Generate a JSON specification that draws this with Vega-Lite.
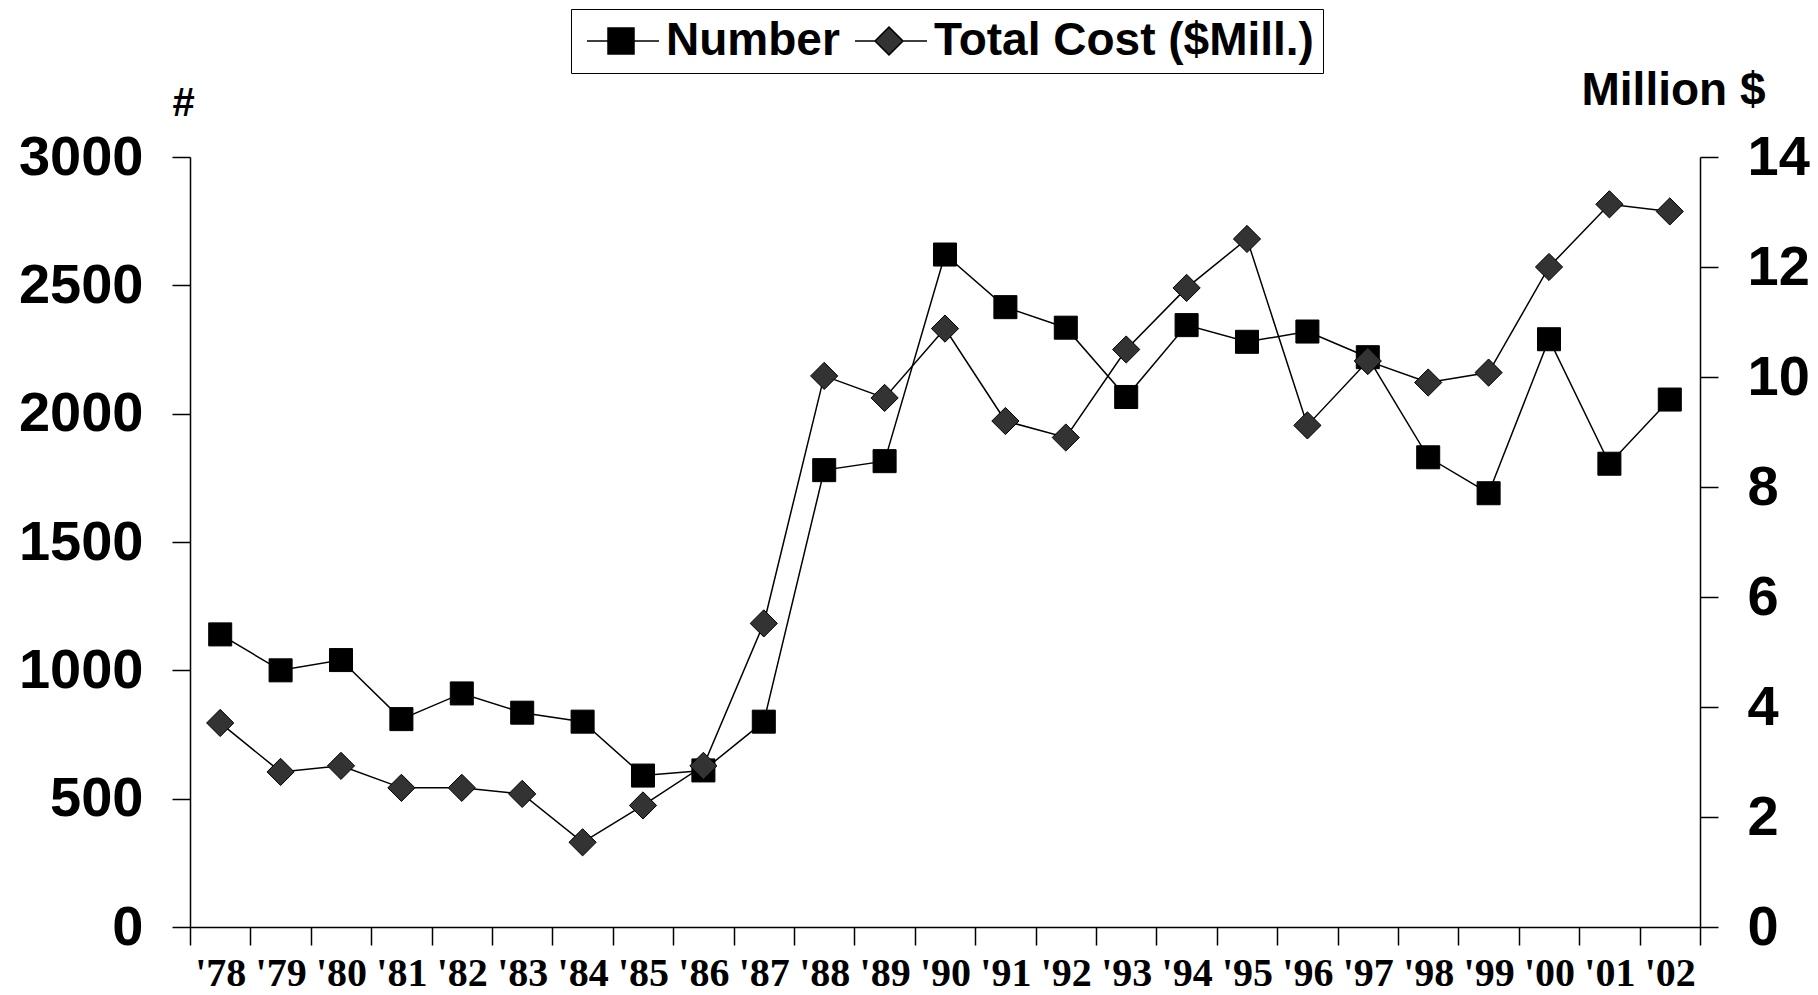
{
  "$schema": "https://vega.github.io/schema/vega-lite/v6.json",
  "width": 1510,
  "height": 770,
  "autosize": {"type": "none"},
  "padding": {"left": 190, "top": 157, "right": 118, "bottom": 68},
  "background": "white",
  "config": {
    "view": {"stroke": null},
    "axis": {"grid": false, "domainColor": "black", "domainWidth": 1.5, "tickColor": "black", "tickWidth": 1.5, "labelColor": "black", "titleColor": "black"},
    "legend": {
      "orient": "none",
      "legendX": 381,
      "legendY": -148,
      "direction": "horizontal",
      "strokeColor": "black",
      "fillColor": "white",
      "padding": 9,
      "symbolSize": 1600,
      "symbolStrokeColor": "black",
      "symbolStrokeWidth": 1.5,
      "symbolOpacity": 1,
      "labelFont": "Liberation Sans",
      "labelFontWeight": "bold",
      "labelFontSize": 46,
      "labelColor": "black",
      "labelOffset": 40,
      "columnPadding": 8,
      "labelLimit": 1000
    }
  },
  "data": {
    "values": [
      {"year": "'78", "series": "Number", "value": 1140},
      {"year": "'79", "series": "Number", "value": 1000},
      {"year": "'80", "series": "Number", "value": 1040},
      {"year": "'81", "series": "Number", "value": 810},
      {"year": "'82", "series": "Number", "value": 910},
      {"year": "'83", "series": "Number", "value": 835},
      {"year": "'84", "series": "Number", "value": 800},
      {"year": "'85", "series": "Number", "value": 590},
      {"year": "'86", "series": "Number", "value": 610},
      {"year": "'87", "series": "Number", "value": 800},
      {"year": "'88", "series": "Number", "value": 1780},
      {"year": "'89", "series": "Number", "value": 1815},
      {"year": "'90", "series": "Number", "value": 2620},
      {"year": "'91", "series": "Number", "value": 2415},
      {"year": "'92", "series": "Number", "value": 2335},
      {"year": "'93", "series": "Number", "value": 2065},
      {"year": "'94", "series": "Number", "value": 2345},
      {"year": "'95", "series": "Number", "value": 2280},
      {"year": "'96", "series": "Number", "value": 2320},
      {"year": "'97", "series": "Number", "value": 2220},
      {"year": "'98", "series": "Number", "value": 1830},
      {"year": "'99", "series": "Number", "value": 1690},
      {"year": "'00", "series": "Number", "value": 2290},
      {"year": "'01", "series": "Number", "value": 1805},
      {"year": "'02", "series": "Number", "value": 2055},
      {"year": "'78", "series": "Total Cost ($Mill.)", "value": 3.71},
      {"year": "'79", "series": "Total Cost ($Mill.)", "value": 2.82},
      {"year": "'80", "series": "Total Cost ($Mill.)", "value": 2.93},
      {"year": "'81", "series": "Total Cost ($Mill.)", "value": 2.53},
      {"year": "'82", "series": "Total Cost ($Mill.)", "value": 2.53},
      {"year": "'83", "series": "Total Cost ($Mill.)", "value": 2.42},
      {"year": "'84", "series": "Total Cost ($Mill.)", "value": 1.54},
      {"year": "'85", "series": "Total Cost ($Mill.)", "value": 2.21},
      {"year": "'86", "series": "Total Cost ($Mill.)", "value": 2.93},
      {"year": "'87", "series": "Total Cost ($Mill.)", "value": 5.52},
      {"year": "'88", "series": "Total Cost ($Mill.)", "value": 10.02},
      {"year": "'89", "series": "Total Cost ($Mill.)", "value": 9.62},
      {"year": "'90", "series": "Total Cost ($Mill.)", "value": 10.88},
      {"year": "'91", "series": "Total Cost ($Mill.)", "value": 9.2},
      {"year": "'92", "series": "Total Cost ($Mill.)", "value": 8.9},
      {"year": "'93", "series": "Total Cost ($Mill.)", "value": 10.5},
      {"year": "'94", "series": "Total Cost ($Mill.)", "value": 11.62},
      {"year": "'95", "series": "Total Cost ($Mill.)", "value": 12.51},
      {"year": "'96", "series": "Total Cost ($Mill.)", "value": 9.12},
      {"year": "'97", "series": "Total Cost ($Mill.)", "value": 10.29},
      {"year": "'98", "series": "Total Cost ($Mill.)", "value": 9.9},
      {"year": "'99", "series": "Total Cost ($Mill.)", "value": 10.08},
      {"year": "'00", "series": "Total Cost ($Mill.)", "value": 12.0},
      {"year": "'01", "series": "Total Cost ($Mill.)", "value": 13.14},
      {"year": "'02", "series": "Total Cost ($Mill.)", "value": 13.01}
    ]
  },
  "encoding": {
    "x": {
      "field": "year",
      "type": "ordinal",
      "sort": null,
      "scale": {"type": "band", "paddingInner": 0, "paddingOuter": 0},
      "axis": {
        "title": null,
        "labelAngle": 0,
        "tickBand": "extent",
        "tickSize": 18,
        "labelPadding": 8,
        "labelFont": "Liberation Serif",
        "labelFontWeight": "bold",
        "labelFontSize": 40,
        "labelBaseline": "top"
      }
    }
  },
  "layer": [
    {
      "transform": [{"filter": "datum.series === 'Number'"}],
      "encoding": {
        "y": {
          "field": "value",
          "type": "quantitative",
          "scale": {"domain": [0, 3000], "nice": false, "zero": true},
          "axis": {
            "orient": "left",
            "values": [0, 500, 1000, 1500, 2000, 2500, 3000],
            "format": "d",
            "tickSize": 18,
            "labelPadding": 29,
            "labelFont": "Liberation Sans",
            "labelFontWeight": "bold",
            "labelFontSize": 56,
            "labelBaseline": "middle",
            "title": "#",
            "titleAngle": 0,
            "titleX": -7,
            "titleY": -54,
            "titleAlign": "center",
            "titleBaseline": "middle",
            "titleFont": "Liberation Sans",
            "titleFontWeight": "bold",
            "titleFontSize": 40
          }
        }
      },
      "layer": [
        {"mark": {"type": "line", "color": "black", "strokeWidth": 1.5}},
        {"mark": {"type": "point", "shape": "square", "filled": true, "fill": "#000000", "stroke": "black", "strokeWidth": 1, "opacity": 1, "size": 530}},
        {
          "transform": [{"filter": "false"}],
          "mark": {"type": "point", "filled": true, "strokeWidth": 1.5},
          "encoding": {
            "shape": {
              "field": "series",
              "type": "nominal",
              "scale": {"domain": ["Number", "Total Cost ($Mill.)"], "range": ["M-0.8,0H0.25M1.55,0H2.8M0.25,-0.65H1.55V0.65H0.25Z", "M-0.8,0H0.2M1.6,0H2.8M0.2,0L0.9,-0.7L1.6,0L0.9,0.7Z"]},
              "legend": {"title": null}
            },
            "fill": {
              "field": "series",
              "type": "nominal",
              "scale": {"domain": ["Number", "Total Cost ($Mill.)"], "range": ["#000000", "#333333"]},
              "legend": {"title": null}
            },
            "stroke": {
              "field": "series",
              "type": "nominal",
              "scale": {"domain": ["Number", "Total Cost ($Mill.)"], "range": ["#000000", "#000000"]},
              "legend": {"title": null}
            }
          }
        }
      ]
    },
    {
      "transform": [{"filter": "datum.series !== 'Number'"}],
      "encoding": {
        "y": {
          "field": "value",
          "type": "quantitative",
          "scale": {"domain": [0, 14], "nice": false, "zero": true},
          "axis": {
            "orient": "right",
            "values": [0, 2, 4, 6, 8, 10, 12, 14],
            "tickSize": 18,
            "labelPadding": 29,
            "labelFont": "Liberation Sans",
            "labelFontWeight": "bold",
            "labelFontSize": 56,
            "labelBaseline": "middle",
            "title": "Million $",
            "titleAngle": 0,
            "titleX": 65,
            "titleY": -67,
            "titleAlign": "right",
            "titleBaseline": "middle",
            "titleFont": "Liberation Sans",
            "titleFontWeight": "bold",
            "titleFontSize": 46
          }
        }
      },
      "layer": [
        {"mark": {"type": "line", "color": "black", "strokeWidth": 1.5}},
        {"mark": {"type": "point", "shape": "diamond", "filled": true, "fill": "#333333", "stroke": "black", "strokeWidth": 1, "opacity": 1, "size": 740}}
      ]
    }
  ],
  "resolve": {"scale": {"y": "independent"}}
}
